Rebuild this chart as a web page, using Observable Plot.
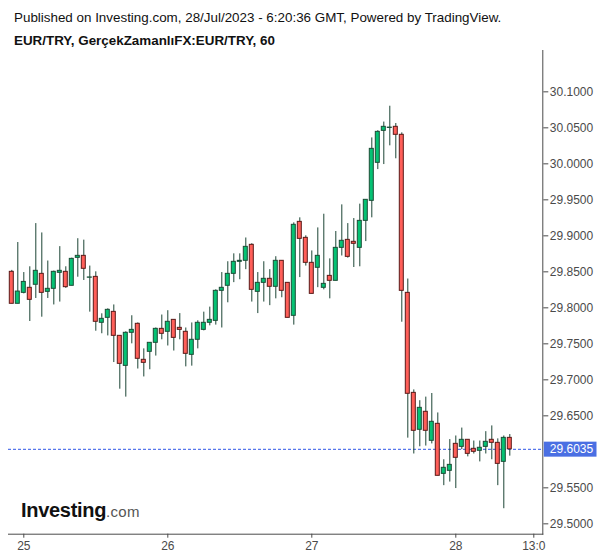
<!DOCTYPE html>
<html>
<head>
<meta charset="utf-8">
<script src="https://cdn.jsdelivr.net/npm/d3@7"></script>
<script src="https://cdn.jsdelivr.net/npm/@observablehq/plot@0.6"></script>
<style>
  html, body { margin: 0; padding: 0; background: #fff; }
  body { width: 600px; height: 558px; position: relative; overflow: hidden; font-family: "Liberation Sans", Arial, sans-serif; }
  #hdr { position: relative; height: 50px; }
  #l1 { position: absolute; left: 14px; top: 10px; font-size: 13.4px; line-height: 15px; color: #111; white-space: nowrap; }
  #l2 { position: absolute; left: 14px; top: 33px; font-size: 13.4px; line-height: 15px; font-weight: bold; color: #111; white-space: nowrap; }
  #logo { position: absolute; left: 21px; top: 500px; white-space: nowrap; line-height: 20px; }
  #logo .a { font-size: 20px; font-weight: bold; color: #111; letter-spacing: -0.3px; }
  #logo .b { font-size: 15px; color: #555; letter-spacing: 0.3px; }
  #chart { position: absolute; left: 0; top: 50px; }
</style>
</head>
<body>
<div id="hdr">
  <div id="l1">Published on Investing.com, 28/Jul/2023 - 6:20:36 GMT, Powered by TradingView.</div>
  <div id="l2">EUR/TRY, GerçekZamanlıFX:EUR/TRY, 60</div>
</div>
<div id="chart"></div>
<div id="logo"><span class="a">Investing</span><span class="b">.com</span></div>
<script>
// Hourly candles, first one at 24 Jul 2023 22:00 (chart local time)
const firstCandle = "2023-07-24T22:00Z";
const opens = [29.850,29.8056,29.8208,29.8278,29.832,29.8472,29.8222,29.8264,29.8486,29.850,
  29.8306,29.8694,29.8722,29.8418,29.843,29.7792,29.7861,29.7944,29.7611,29.7194,
  29.7653,29.7778,29.7278,29.7389,29.7514,29.7708,29.7667,29.7833,29.7722,29.7667,
  29.7347,29.7556,29.7694,29.7792,29.7819,29.8236,29.8306,29.8472,29.8639,29.8653,
  29.8875,29.8222,29.8347,29.8403,29.8292,29.8653,29.8347,29.7889,29.9194,29.8972,
  29.8625,29.8556,29.8278,29.8444,29.8375,29.8833,29.8944,29.8917,29.8833,29.9208,
  29.9486,30.0014,30.0458,30.0498,30.0514,30.0403,29.8208,29.6819,29.6306,29.6556,
  29.6153,29.6389,29.5694,29.5736,29.6111,29.6069,29.6167,29.6042,29.6014,29.6069,
  29.6167,29.6125,29.5861,29.6194];
const highs = [29.852,29.8907,29.849,29.857,29.917,29.904,29.865,29.851,29.885,29.857,
  29.869,29.896,29.894,29.858,29.850,29.7917,29.7986,29.804,29.7611,29.7667,
  29.789,29.779,29.743,29.7514,29.772,29.790,29.796,29.7833,29.792,29.772,
  29.779,29.782,29.794,29.801,29.825,29.849,29.864,29.875,29.875,29.897,
  29.889,29.849,29.864,29.853,29.871,29.8653,29.8347,29.918,29.925,29.900,
  29.879,29.911,29.930,29.868,29.906,29.943,29.917,29.924,29.944,29.950,
  30.036,30.046,30.058,30.080,30.056,30.043,29.840,29.686,29.671,29.676,
  29.681,29.654,29.589,29.617,29.622,29.633,29.6167,29.615,29.615,29.628,
  29.636,29.618,29.622,29.624];
const lows = [29.8056,29.8056,29.8194,29.781,29.813,29.787,29.813,29.804,29.808,29.827,
  29.8306,29.8425,29.838,29.794,29.7675,29.764,29.761,29.724,29.687,29.676,
  29.750,29.715,29.704,29.714,29.733,29.7556,29.747,29.740,29.7556,29.718,
  29.719,29.743,29.768,29.775,29.776,29.772,29.807,29.835,29.839,29.853,
  29.808,29.792,29.808,29.803,29.8125,29.814,29.786,29.776,29.842,29.858,
  29.8194,29.828,29.825,29.8125,29.8375,29.872,29.869,29.856,29.857,29.892,
  29.925,29.992,29.999,30.025,30.007,29.780,29.619,29.597,29.607,29.608,
  29.611,29.5667,29.553,29.558,29.549,29.603,29.593,29.597,29.586,29.597,
  29.589,29.553,29.521,29.594];
const closes = [29.8056,29.8226,29.836,29.8111,29.8514,29.8208,29.8264,29.850,29.8514,29.8287,
  29.868,29.8722,29.8542,29.8422,29.7806,29.7847,29.7972,29.7611,29.7222,29.7653,
  29.7694,29.7292,29.7236,29.7514,29.7708,29.7639,29.7806,29.7583,29.7694,29.7361,
  29.7556,29.7792,29.7792,29.7833,29.8236,29.8278,29.8472,29.8639,29.8653,29.8847,
  29.825,29.8347,29.8403,29.8292,29.8653,29.8236,29.7861,29.9153,29.8958,29.8625,
  29.8194,29.8722,29.8333,29.8375,29.8833,29.8931,29.8708,29.8889,29.9208,29.950,
  30.0208,30.0444,30.0514,30.0503,30.0403,29.8236,29.6806,29.6292,29.6611,29.6292,
  29.6417,29.5667,29.5778,29.5819,29.5917,29.6167,29.5972,29.600,29.6056,29.6139,
  29.6125,29.5833,29.6194,29.6035];
const lastPrice = 29.6035;
// 29.6000 is hidden behind the last-price label in the reference
const yTicks = [29.50,29.55,29.65,29.70,29.75,29.80,29.85,29.90,29.95,30.00,30.05,30.10];
const xTickTimes = ["2023-07-25T00:00Z","2023-07-26T00:00Z","2023-07-27T00:00Z","2023-07-28T00:00Z","2023-07-28T13:00Z"];
const xTickLabels = ["25","26","27","28","13:0"];
const yDomain = [29.4856, 30.1574];

const HOUR = 3600e3;
const t0 = +new Date(firstCandle);
const candles = opens.map((o, i) => ({
  date: new Date(t0 + i * HOUR), open: o, high: highs[i], low: lows[i], close: closes[i]
}));
const xTicks = xTickTimes.map(s => new Date(s));
const xDomain = [new Date(t0 - 0.55 * HOUR), new Date(t0 + 88.5 * HOUR)];

const upFill = "#05c274", downFill = "#ff5f59";
const upStroke = "#1b4d36", downStroke = "#5a1a18";
const wick = "#1c4535";

const plot = Plot.plot({
  width: 600,
  height: 508,
  marginLeft: 8,
  marginRight: 57.7,
  marginTop: 0,
  marginBottom: 24.3,
  style: { background: "#fff", color: "#4a4a4a", fontSize: "12px", fontFamily: "'Liberation Sans', Arial, sans-serif" },
  x: { type: "utc", domain: xDomain, ticks: xTicks, tickFormat: d => xTickLabels[xTicks.findIndex(t => +t === +d)], line: true, tickSize: 4, tickPadding: 3, label: null },
  y: { domain: yDomain, ticks: yTicks, tickFormat: d => d.toFixed(4), axis: "right", line: true, tickSize: 5, tickPadding: 2, label: null },
  marks: [
    Plot.ruleY([lastPrice], { stroke: "#2f55e6", strokeDasharray: "3,2", strokeWidth: 1 }),
    Plot.ruleX(candles, { x: "date", y1: "low", y2: "high", stroke: wick, strokeWidth: 1 }),
    Plot.rect(candles, {
      x1: d => new Date(+d.date - HOUR / 2), x2: d => new Date(+d.date + HOUR / 2),
      y1: "open", y2: "close", insetLeft: 1, insetRight: 1,
      fill: d => d.close >= d.open ? upFill : downFill,
      stroke: d => d.close >= d.open ? upStroke : downStroke,
      strokeWidth: 1
    }),
    Plot.text([lastPrice], { y: d => d, text: d => d.toFixed(4), frameAnchor: "right", dx: 7, textAnchor: "start", fill: "#fff", fontSize: 12 })
  ]
});
document.getElementById("chart").appendChild(plot);

// blue background box behind the last-price label
const label = lastPrice.toFixed(4);
d3.select(plot).selectAll("text")
  .filter(function () { return this.textContent === label; })
  .each(function () {
    const bb = this.getBBox();
    const r = document.createElementNS("http://www.w3.org/2000/svg", "rect");
    r.setAttribute("x", bb.x - 6);
    r.setAttribute("y", bb.y - 0.5);
    r.setAttribute("width", bb.width + 9);
    r.setAttribute("height", bb.height + 1);
    r.setAttribute("fill", "#4a6fe3");
    const tr = this.getAttribute("transform");
    if (tr) r.setAttribute("transform", tr);
    this.parentNode.insertBefore(r, this);
  });
</script>
</body>
</html>
